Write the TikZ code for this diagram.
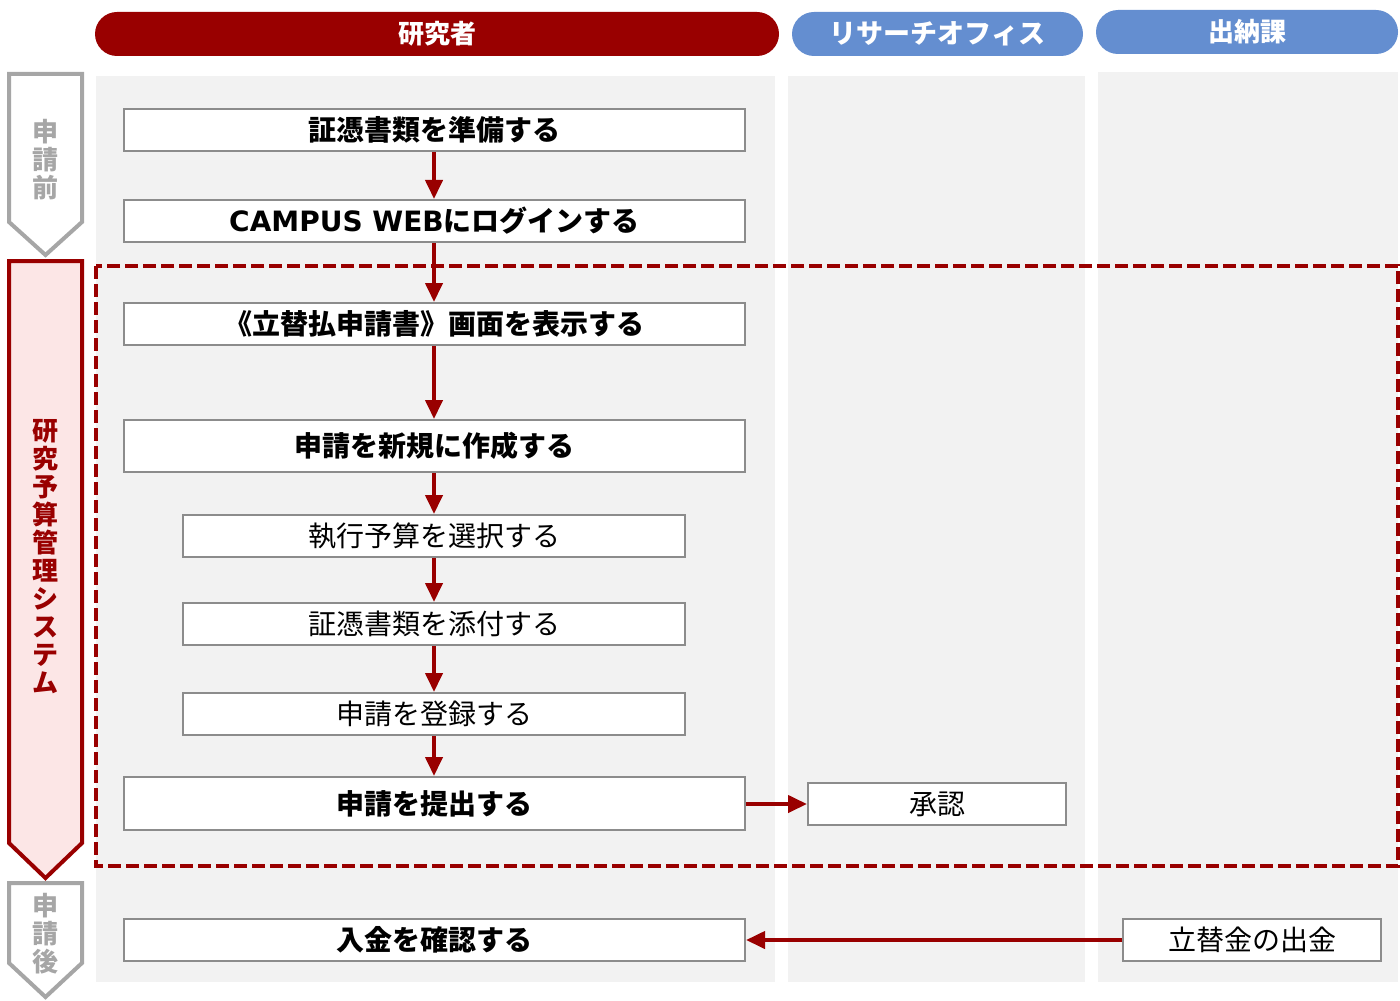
\documentclass[tikz,border=0pt]{standalone}
\usepackage{fontspec}
\setmainfont{Noto Sans CJK JP}
\newfontfamily\latinwide{DejaVu Sans}
\usetikzlibrary{arrows.meta}
\definecolor{dred}{RGB}{153,0,0}
\definecolor{pblue}{RGB}{100,142,208}
\definecolor{lanebg}{RGB}{242,242,242}
\definecolor{boxgray}{RGB}{140,140,140}
\definecolor{phgray}{RGB}{166,166,166}
\definecolor{pinkfill}{RGB}{252,230,230}
\tikzset{
  pill/.style={fill=#1, rounded corners=11pt, minimum height=22pt, inner sep=0pt, text=white, font=\fontsize{13pt}{15pt}\selectfont\bfseries},
  box/.style={draw=boxgray, line width=1pt, fill=white, inner sep=0pt, minimum height=21pt, text=black},
  boldbox/.style={box, font=\fontsize{14pt}{16pt}\selectfont\bfseries},
  normbox/.style={box, font=\fontsize{14pt}{16pt}\selectfont},
  flow/.style={draw=dred, line width=2pt, -{Triangle[width=8.5pt,length=9.5pt]}},
  phase/.style={line width=2pt, line join=miter},
  vtext/.style={align=center, inner sep=0pt, font=\fontsize{13pt}{14pt}\selectfont\bfseries}
}
\begin{document}
\begin{tikzpicture}[x=0.5pt,y=-0.5pt]
\useasboundingbox (0,0) rectangle (1400,1000);
% lane backgrounds
\fill[lanebg] (96,76) rectangle (775,982);
\fill[lanebg] (788,76) rectangle (1085,982);
\fill[lanebg] (1098,72) rectangle (1398,982);
% headers
\node[pill=dred, minimum width=342pt] (h1) at (437,34) {研究者};
\node[pill=pblue, minimum width=145.5pt, font=\fontsize{13.5pt}{15pt}\selectfont\bfseries] (h2) at (937.5,34) {リサーチオフィス};
\node[pill=pblue, minimum width=151pt] (h3) at (1247,32) {出納課};
% phase arrows
\draw[phase, draw=phgray, fill=white] (9,74) -- (82,74) -- (82,222) -- (45.5,255) -- (9,222) -- cycle;
\node[vtext, text=phgray] (p1) at (45.5,160) {申\\請\\前};
\draw[phase, draw=dred, fill=pinkfill] (9,261) -- (82,261) -- (82,843) -- (45.5,878) -- (9,843) -- cycle;
\node[vtext, text=dred] (p2) at (45.5,557) {研\\究\\予\\算\\管\\理\\シ\\ス\\テ\\ム};
\draw[phase, draw=phgray, fill=white] (9,883) -- (82,883) -- (82,963) -- (45.5,997) -- (9,963) -- cycle;
\node[vtext, text=phgray] (p3) at (45.5,934) {申\\請\\後};
% dashed frame
\draw[dred, line width=2.2pt, dash pattern=on 6.5pt off 2.5pt] (96,266) rectangle (1398,866);
% boxes
\node[boldbox, minimum width=310.5pt] (b1) at (434.5,130) {証憑書類を準備する};
\node[boldbox, minimum width=310.5pt] (b2) at (434.5,221) {{\latinwide\bfseries CAMPUS WEB}にログインする};
\node[boldbox, minimum width=310.5pt] (b3) at (434.5,324) {《立替払申請書》画面を表示する};
\node[boldbox, minimum width=310.5pt, minimum height=26pt] (b4) at (434.5,446) {申請を新規に作成する};
\node[normbox, minimum width=251pt] (b5) at (434,536) {執行予算を選択する};
\node[normbox, minimum width=251pt] (b6) at (434,624) {証憑書類を添付する};
\node[normbox, minimum width=251pt] (b7) at (434,714) {申請を登録する};
\node[boldbox, minimum width=310.5pt, minimum height=26.5pt] (b8) at (434.5,803.5) {申請を提出する};
\node[normbox, minimum width=129pt] (b10) at (937,804) {承認};
\node[normbox, minimum width=129pt] (b11) at (1252,940) {立替金の出金};
\node[boldbox, minimum width=310.5pt] (b9) at (434.5,940) {入金を確認する};
% arrows
\draw[flow] (b1.south -| 434,0) -- (b2.north -| 434,0);
\draw[flow] (b2.south -| 434,0) -- (b3.north -| 434,0);
\draw[flow] (b3.south -| 434,0) -- (b4.north -| 434,0);
\draw[flow] (b4.south -| 434,0) -- (b5.north -| 434,0);
\draw[flow] (b5.south) -- (b6.north);
\draw[flow] (b6.south) -- (b7.north);
\draw[flow] (b7.south -| 434,0) -- (b8.north -| 434,0);
\draw[flow] (b8.east |- b10.west) -- (b10.west);
\draw[flow] (b11.west) -- (b9.east);
\end{tikzpicture}
\end{document}
